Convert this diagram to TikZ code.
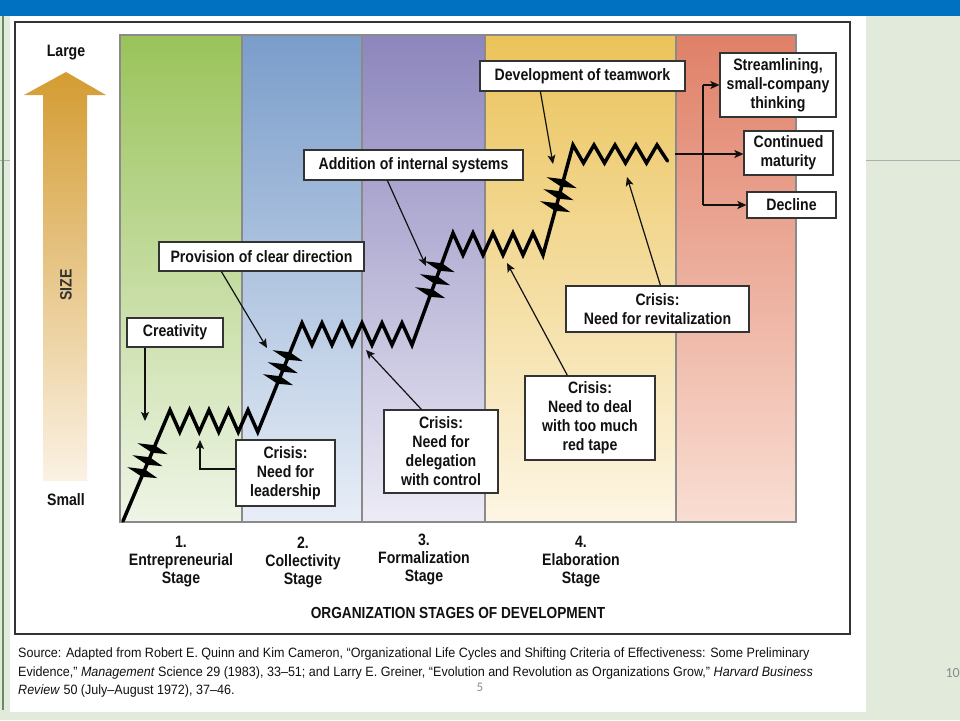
\documentclass[tikz,border=0pt]{standalone}
\usepackage{fontspec}
\setmainfont{Liberation Sans}
\newfontfamily\cond[FakeStretch=0.855]{Liberation Sans}
\newfontfamily\srcfont[FakeStretch=0.93]{Liberation Sans}
\newfontfamily\pgfont{Carlito}
\usetikzlibrary{arrows.meta}
\definecolor{slidebg}{HTML}{E2EADB}
\definecolor{topbar}{HTML}{0070C0}
\definecolor{txt}{HTML}{111111}
\definecolor{boxline}{HTML}{333333}
\definecolor{colline}{HTML}{8A8A8A}
\definecolor{gA}{HTML}{9AC35A}\definecolor{gB}{HTML}{EFF5E7}
\definecolor{bA}{HTML}{7A9DCA}\definecolor{bB}{HTML}{E8EEF7}
\definecolor{pA}{HTML}{8C86BD}\definecolor{pB}{HTML}{ECEBF5}
\definecolor{yA}{HTML}{EBC35A}\definecolor{yB}{HTML}{FDF6E4}
\definecolor{rA}{HTML}{E08068}\definecolor{rB}{HTML}{F9DED3}
\definecolor{arA}{HTML}{D49C32}\definecolor{arB}{HTML}{FBF2E4}
\definecolor{pggray}{HTML}{8C8C8C}
\tikzset{
  lbl/.style={draw=boxline, line width=1.2pt, fill=white, text=txt, align=center,
    inner sep=0pt, font=\cond\bfseries\fontsize{16.5}{19}\selectfont},
  plain/.style={text=txt, align=center, inner sep=0pt, font=\cond\bfseries\fontsize{16.5}{18}\selectfont},
  conn/.style={draw=txt, line width=1.2pt, -{Stealth[length=9pt,width=8pt,inset=2pt]}},
  connplain/.style={draw=txt, line width=1.2pt},
  zig/.style={draw=black, line width=3.5pt, line join=miter, line cap=round},
  hatch/.pic={\fill[black] (-17,0) -- (0,-4) -- (15,0) -- (0,4) -- cycle;},
  src/.style={anchor=base west, inner sep=0pt, text=txt, font=\srcfont\fontsize{13.5}{16}\selectfont}
}
\begin{document}
\begin{tikzpicture}[x=1pt,y=-1pt]
\useasboundingbox (0,0) rectangle (960,720);
% slide background
\fill[slidebg] (0,0) rectangle (960,720);
\fill[topbar] (0,0) rectangle (960,16);
\draw[colline!70, line width=0.8pt] (0,160) -- (10,160);
\draw[colline!70, line width=0.8pt] (866,160) -- (960,160);
\draw[green!25!black!60, line width=1.2pt] (3,16) -- (3,710);
\fill[white] (10,16) rectangle (866,712);
\draw[boxline, line width=1.3pt] (15,22) rectangle (850,634);
% columns
\shade[top color=gA, bottom color=gB] (120,35) rectangle (242,522);
\shade[top color=bA, bottom color=bB] (242,35) rectangle (362,522);
\shade[top color=pA, bottom color=pB] (362,35) rectangle (485,522);
\shade[top color=yA, bottom color=yB] (485,35) rectangle (676,522);
\shade[top color=rA, bottom color=rB] (676,35) rectangle (796,522);
\draw[colline, line width=1.5pt] (120,35) rectangle (796,522);
\foreach \xx in {242,362,485,676} \draw[colline, line width=1.5pt] (\xx,35) -- (\xx,522);
% size arrow
\shade[top color=arA, bottom color=arB] (66,72) -- (106,95) -- (87,95) -- (87,481) -- (43,481) -- (43,95) -- (24,95) -- cycle;
\node[plain] (large) at (66,53) {Large};
\node[plain] (small) at (66,500) {Small};
\node[plain, rotate=90, text=boxline] (size) at (66,285) {SIZE};
% zigzag growth line
\draw[zig] (123,521) -- (170,410) -- (179.75,432) -- (189.5,410) -- (199.25,432) -- (209,410)
  -- (218.75,432) -- (228.5,410) -- (238.25,432) -- (248,410) -- (257.75,432)
  -- (302,323) -- (312,345) -- (322,323) -- (332,345) -- (342,323) -- (352,345) -- (362,323)
  -- (372,345) -- (382,323) -- (392,345) -- (402,323) -- (412,345)
  -- (453,233) -- (463,255) -- (473,233) -- (483,255) -- (493,233) -- (503,255) -- (513,233)
  -- (523,255) -- (533,233) -- (543,255)
  -- (573,145) -- (583.5,163) -- (594,145) -- (604.5,163) -- (615,145) -- (625.5,163)
  -- (636,145) -- (646.5,163) -- (657,145) -- (667.5,161);
% revolution marks
\foreach \px/\py in {153.5/449,148.4/461,143.3/473,288.6/356,283.7/368,278.9/380,
  440.6/267,435.9/280,431.1/293,562.6/183,559.4/195,556.1/207}
  \pic[rotate=-20] at (\px,\py) {hatch};
% label boxes
\node[lbl, minimum width=96pt, minimum height=29pt] (creat) at (175,332.5) {Creativity};
\node[lbl, minimum width=205pt, minimum height=29pt] (prov) at (261.5,256.5) {Provision of clear direction};
\node[lbl, minimum width=219pt, minimum height=30pt] (addi) at (413.5,165) {Addition of internal systems};
\node[lbl, minimum width=205pt, minimum height=30pt] (team) at (582.5,76) {Development of teamwork};
\node[lbl, minimum width=116pt, minimum height=64pt] (stream) at (778,85) {Streamlining,\\small-company\\thinking};
\node[lbl, minimum width=89pt, minimum height=44pt] (cont) at (788.5,153) {Continued\\maturity};
\node[lbl, minimum width=89pt, minimum height=26pt] (decl) at (791.5,205) {Decline};
\node[lbl, minimum width=99pt, minimum height=66pt] (lead) at (285.5,473) {Crisis:\\Need for\\leadership};
\node[lbl, minimum width=114pt, minimum height=83pt] (deleg) at (441,451.5) {Crisis:\\Need for\\delegation\\with control};
\node[lbl, minimum width=130pt, minimum height=84pt] (redt) at (590,418) {Crisis:\\Need to deal\\with too much\\red tape};
\node[lbl, minimum width=183pt, minimum height=46pt] (revit) at (657.5,309) {Crisis:\\Need for revitalization};
% arrow tips
\coordinate (tcreat) at (145,421);
\coordinate (tlead) at (200,440);
\coordinate (tprov) at (267,348);
\coordinate (taddi) at (426,266);
\coordinate (tteam) at (553,164);
\coordinate (tdeleg) at (366,350);
\coordinate (tredt) at (507,263);
\coordinate (trevit) at (627,177);
\coordinate (brstart) at (675,154);
\coordinate (jn) at (703,154);
% connectors
\draw[conn] (creat.south -| tcreat) -- (tcreat);
\draw[conn] ([yshift=4pt]lead.west) -| (tlead);
\draw[conn] ([xshift=63pt]prov.south west) -- (tprov);
\draw[conn] ([xshift=84pt]addi.south west) -- (taddi);
\draw[conn] ([xshift=61pt]team.south west) -- (tteam);
\draw[conn] ([xshift=38pt]deleg.north west) -- (tdeleg);
\draw[conn] ([xshift=43pt]redt.north west) -- (tredt);
\draw[conn] ([xshift=95pt]revit.north west) -- (trevit);
\draw[conn] (brstart) -- (cont.west |- brstart);
\draw[connplain] (jn |- stream.west) -- (jn |- decl.west);
\draw[conn] (jn |- stream.west) -- (stream.west);
\draw[conn] (jn |- decl.west) -- (decl.west);
% stage labels
\node[plain] (st1) at (181,562) {1.\\Entrepreneurial\\Stage};
\node[plain] (st2) at (303,562) {2.\\Collectivity\\Stage};
\node[plain] (st3) at (424,559) {3.\\Formalization\\Stage};
\node[plain] (st4) at (581,562) {4.\\Elaboration\\Stage};
\node[plain, font=\cond\bfseries\fontsize{16}{18}\selectfont] (axis) at (458,613) {ORGANIZATION STAGES OF DEVELOPMENT};
% source
\node[src] (src1) at (18,657) {Source: Adapted from Robert E. Quinn and Kim Cameron, “Organizational Life Cycles and Shifting Criteria of Effectiveness: Some Preliminary};
\node[src] (src2) at (18,676) {Evidence,” \textit{Management} Science 29 (1983), 33–51; and Larry E. Greiner, “Evolution and Revolution as Organizations Grow,” \textit{Harvard Business}};
\node[src] (src3) at (18,694) {\textit{Review} 50 (July–August 1972), 37–46.};
% page numbers
\node[anchor=base, inner sep=0pt, text=pggray, font=\pgfont\fontsize{13}{15}\selectfont] (pg5) at (480,691) {5};
\node[anchor=base east, inner sep=0pt, text=pggray, font=\pgfont\fontsize{14}{16}\selectfont] (pg10) at (960,677) {10};
\end{tikzpicture}
\end{document}
